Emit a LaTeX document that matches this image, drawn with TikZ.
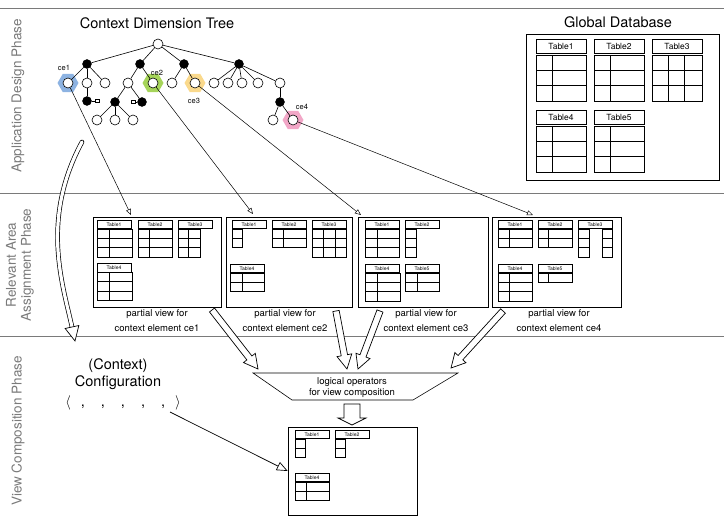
\documentclass[tikz,border=0pt]{standalone}
\usepackage{fontspec}
\setmainfont{TeX Gyre Heros}
\usetikzlibrary{arrows.meta,shapes.geometric,calc}
\definecolor{hblue}{HTML}{8DB3E2}
\definecolor{hgreen}{HTML}{A6D45A}
\definecolor{hyellow}{HTML}{FAD98C}
\definecolor{hpink}{HTML}{F2A7C7}
\definecolor{phasegray}{HTML}{7A7A7A}
\newcommand\phead[3]{\draw[ptable] (#1,#2) rectangle ({#1+34},{#2+8.5}); \node[pfont] at ({#1+17},{#2+4.4}) {#3};}
\newcommand\pgrid[5]{\draw[ptable] (#1,#2) rectangle ({#1+#3},{#2+9.3*#4});
  \foreach \k in {1,...,#4}{\draw[ptable] (#1,{#2+9.3*\k}) -- ({#1+#3},{#2+9.3*\k});}
  \foreach \xx in {#5}{\draw[ptable] ({#1+\xx},#2) -- ({#1+\xx},{#2+9.3*#4});}}
\newcommand\gtab[4]{\draw[gtable] (#1,#2) rectangle ({#1+50},{#2+14}); \node[gfont] at ({#1+25},{#2+7.2}) {#3};
  \draw[gtable] (#1,{#2+16}) rectangle ({#1+50},{#2+62});
  \draw[gtable] (#1,{#2+31}) -- ({#1+50},{#2+31}) (#1,{#2+46.5}) -- ({#1+50},{#2+46.5});
  \foreach \xx in {#4}{\draw[gtable] ({#1+\xx},{#2+16}) -- ({#1+\xx},{#2+62});}}
\newcommand\blockarr[5]{%
  \coordinate (bac) at ($(#2)!#5!(#1)$);
  \draw[barrow] ($(#1)!#3!90:(#2)$) -- ($(bac)!#3!90:(#2)$) -- ($(bac)!#4!90:(#2)$) -- (#2) -- ($(bac)!#4!-90:(#2)$) -- ($(bac)!#3!-90:(#2)$) -- ($(#1)!#3!-90:(#2)$) -- cycle;}
\begin{document}
\begin{tikzpicture}[x=1pt,y=-1pt,
  wn/.style={circle,draw,fill=white,line width=0.6pt,minimum size=10pt,inner sep=0},
  bn/.style={circle,fill=black,draw=black,minimum size=9pt,inner sep=0},
  hexa/.style={regular polygon,regular polygon sides=6,minimum size=21pt,inner sep=0,draw=none},
  parbox/.style={rectangle,draw,fill=white,minimum size=3.5pt,inner sep=0,line width=0.5pt},
  tedge/.style={line width=0.6pt},
  thinarr/.style={line width=0.5pt,-{Triangle[open,length=6pt,width=5pt]}},
  phase/.style={text=phasegray,font=\fontsize{13.5}{15}\selectfont,align=center},
  phaseline/.style={draw=phasegray,line width=0.9pt},
  ttl/.style={font=\fontsize{14.5}{17}\selectfont},
  lab/.style={font=\fontsize{7.5}{8}\selectfont,inner sep=0},
  capt/.style={font=\fontsize{9.5}{15}\selectfont,align=center},
  ptable/.style={line width=0.6pt},
  gtable/.style={line width=0.8pt},
  pfont/.style={font=\fontsize{5}{6}\selectfont,inner sep=0},
  gfont/.style={font=\fontsize{8.5}{9}\selectfont,inner sep=0},
  viewbox/.style={draw,line width=0.6pt,inner sep=0},
  barrow/.style={draw,fill=white,line width=0.7pt,line join=miter}
]
\useasboundingbox (0,0) rectangle (724,521);
% phase separators and labels
\draw[phaseline] (0,8) -- (724,8);
\draw[phaseline] (0,193) -- (724,193);
\draw[phaseline] (0,336) -- (724,336);
\node[phase,rotate=90] (ph1) at (18,96) {Application Design Phase};
\node[phase,rotate=90] (ph2) at (20,265) {Relevant Area\\Assignment Phase};
\node[phase,rotate=90] (ph3) at (18,431) {View Composition Phase};
% titles
\node[ttl] (cdt) at (157,23) {Context Dimension Tree};
\node[ttl] (gdb) at (618,22) {Global Database};
% hexagons
\node[hexa,fill=hblue] (hx1) at (68,83) {};
\node[hexa,fill=hgreen] (hx2) at (153,83) {};
\node[hexa,fill=hyellow] (hx3) at (195,83) {};
\node[hexa,fill=hpink] (hx4) at (293,120) {};
% tree nodes
\node[wn] (r) at (158,44) {};
\node[bn] (a1) at (87,64) {};
\node[bn] (a2) at (140,64) {};
\node[bn] (a3) at (184,64) {};
\node[bn] (a4) at (239,64) {};
\node[wn] (ce1) at (68,83) {};
\node[wn] (b12) at (87,83) {};
\node[wn] (b13) at (105,83) {};
\node[bn] (c1) at (87,101) {};
\node[parbox] (p1) at (97,101) {};
\node[wn] (b21) at (128,83) {};
\node[wn] (ce2) at (153,83) {};
\node[bn] (c21) at (115,102) {};
\node[bn] (c22) at (142,102) {};
\node[parbox] (p2) at (133,102) {};
\node[wn] (d1) at (97,120) {};
\node[wn] (d2) at (115,120) {};
\node[wn] (d3) at (133,120) {};
\node[wn] (b31) at (172,83) {};
\node[wn] (ce3) at (195,83) {};
\node[wn] (b41) at (214,83) {};
\node[wn] (b42) at (228,83) {};
\node[wn] (b43) at (242,83) {};
\node[wn] (b44) at (258,83) {};
\node[wn] (b45) at (280,83) {};
\node[bn] (c4) at (280,102) {};
\node[wn] (d41) at (273,120) {};
\node[wn] (ce4) at (293,120) {};
\foreach \u/\v in {r/a1,r/a2,r/a3,r/a4,a1/ce1,a1/b12,a1/b13,b12/c1,c1/p1,a2/b21,a2/ce2,b21/c21,b21/c22,c22/p2,c21/d1,c21/d2,c21/d3,a3/b31,a3/ce3,a4/b41,a4/b42,a4/b43,a4/b44,a4/b45,b45/c4,c4/d41,c4/ce4}
  \draw[tedge] (\u) -- (\v);
\node[lab] (l1) at (64,68) {ce1};
\node[lab] (l2) at (157,73) {ce2};
\node[lab] (l3) at (194,101) {ce3};
\node[lab] (l4) at (302,107) {ce4};
% global database
\node[draw,line width=0.6pt,minimum width=193pt,minimum height=146pt,inner sep=0] (gbox) at (622.5,107) {};
\gtab{536}{39}{Table1}{16}
\gtab{594}{39}{Table2}{16}
\gtab{652}{39}{Table3}{16,32}
\gtab{536}{110}{Table4}{16}
\gtab{594}{110}{Table5}{16}
% partial views
\node[viewbox,minimum width=128pt,minimum height=90pt] (v1) at (157,262) {};
\node[viewbox,minimum width=126pt,minimum height=90pt] (v2) at (289,262) {};
\node[viewbox,minimum width=130pt,minimum height=90pt] (v3) at (423,262) {};
\node[viewbox,minimum width=129pt,minimum height=90pt] (v4) at (556.5,262) {};
\phead{97}{220}{Table1} \pgrid{97}{229}{35}{3}{12}
\phead{138}{220}{Table2} \pgrid{138}{229}{34}{3}{11}
\phead{178}{220}{Table3} \pgrid{178}{229}{22}{3}{10}
\phead{97}{263.5}{Table4} \pgrid{97}{272.5}{35}{3}{12}
\phead{232}{220}{Table1} \pgrid{232}{229}{10}{2}{0}
\phead{272}{220}{Table2} \pgrid{272}{229}{34}{2}{11}
\phead{312}{220}{Table3} \pgrid{312}{229}{34}{3}{11,23}
\phead{230}{264}{Table4} \pgrid{230}{273}{34}{2}{12}
\phead{365}{220}{Table1} \pgrid{365}{229}{34}{3}{12}
\phead{405}{220}{Table2} \pgrid{405}{229}{11}{3}{0}
\phead{365}{264}{Table4} \pgrid{365}{273}{35}{3}{12}
\phead{405}{264}{Table5} \pgrid{405}{273}{34}{2}{12}
\phead{498}{220}{Table1} \pgrid{498}{229}{34}{2}{11}
\phead{538}{220}{Table2} \pgrid{538}{229}{34}{2}{10}
\phead{578}{220}{Table3} \pgrid{578}{229}{11}{3}{0} \pgrid{602}{229}{10}{3}{0}
\phead{498}{264}{Table4} \pgrid{498}{273}{34}{3}{11}
\phead{538}{264}{Table5} \pgrid{538}{273}{34}{1}{10}
\node[capt] (cap1) at (157,320.5) {partial view for\\context element ce1};
\node[capt] (cap2) at (285,320.5) {partial view for\\context element ce2};
\node[capt] (cap3) at (426,320.5) {partial view for\\context element ce3};
\node[capt] (cap4) at (559,320.5) {partial view for\\context element ce4};
% arrows from context elements to views
\coordinate (t1) at (131,215);
\coordinate (t2) at (253,214);
\coordinate (t3) at (361,215);
\coordinate (t4) at (533,215);
\draw[thinarr] (ce1) -- (t1);
\draw[thinarr] (ce2) -- (t2);
\draw[thinarr] (ce3) -- (t3);
\draw[thinarr] (ce4) -- (t4);
% logical operators
\draw[line width=0.6pt] (253,373) -- (458,373) -- (413,400) -- (292,400) -- cycle;
\node[capt,font=\fontsize{9.5}{11.5}\selectfont] (ops) at (352,387.5) {logical operators\\for view composition};
\coordinate (s1) at (212,310); \coordinate (e1) at (258,369);
\coordinate (s2) at (336,311); \coordinate (e2) at (347,369);
\coordinate (s3) at (380,311); \coordinate (e3) at (358,369);
\coordinate (s4) at (503,311); \coordinate (e4) at (451,368);
\blockarr{s1}{e1}{3.2pt}{7.5pt}{14pt}
\blockarr{s2}{e2}{3.2pt}{7.5pt}{14pt}
\blockarr{s3}{e3}{3.2pt}{7.5pt}{14pt}
\blockarr{s4}{e4}{3.2pt}{7.5pt}{14pt}
% result view
\node[viewbox,minimum width=129pt,minimum height=88pt] (res) at (352.5,471) {};
\phead{295}{430}{Table1} \pgrid{295}{439}{10}{2}{0}
\phead{335}{430}{Table2} \pgrid{335}{439}{10}{2}{0}
\phead{295}{473}{Table4} \pgrid{295}{482}{34}{2}{11}
\coordinate (opsb) at (352,404);
\coordinate (rest) at (352,425);
\blockarr{opsb}{rest}{8pt}{14pt}{7pt}
% configuration
\node[ttl] (ctx) at (118,366) {(Context)};
\node[ttl] (conf) at (118,383) {Configuration};
\node[ttl] (tup) at (123,403) {$\langle$\hspace{10pt},\hspace{16pt},\hspace{16pt},\hspace{16pt},\hspace{16pt},\hspace{10pt}$\rangle$};
\coordinate (cfgs) at (170,412);
\draw[line width=0.7pt,-{Triangle[open,length=11pt,width=9pt]}] (cfgs) -- (res.west);
% curved arrow from tree to configuration
\coordinate (cs) at (82,142);
\coordinate (cc) at (72,327);
\coordinate (ct) at (75,341);
\draw[line width=0.7pt,double=white,double distance=3.2pt,line cap=round] (cs) .. controls (40,220) and (63,285) .. (cc);
\draw[barrow] ($(cc)!7pt!90:(ct)$) -- (ct) -- ($(cc)!7pt!-90:(ct)$) -- cycle;
\end{tikzpicture}
\end{document}
